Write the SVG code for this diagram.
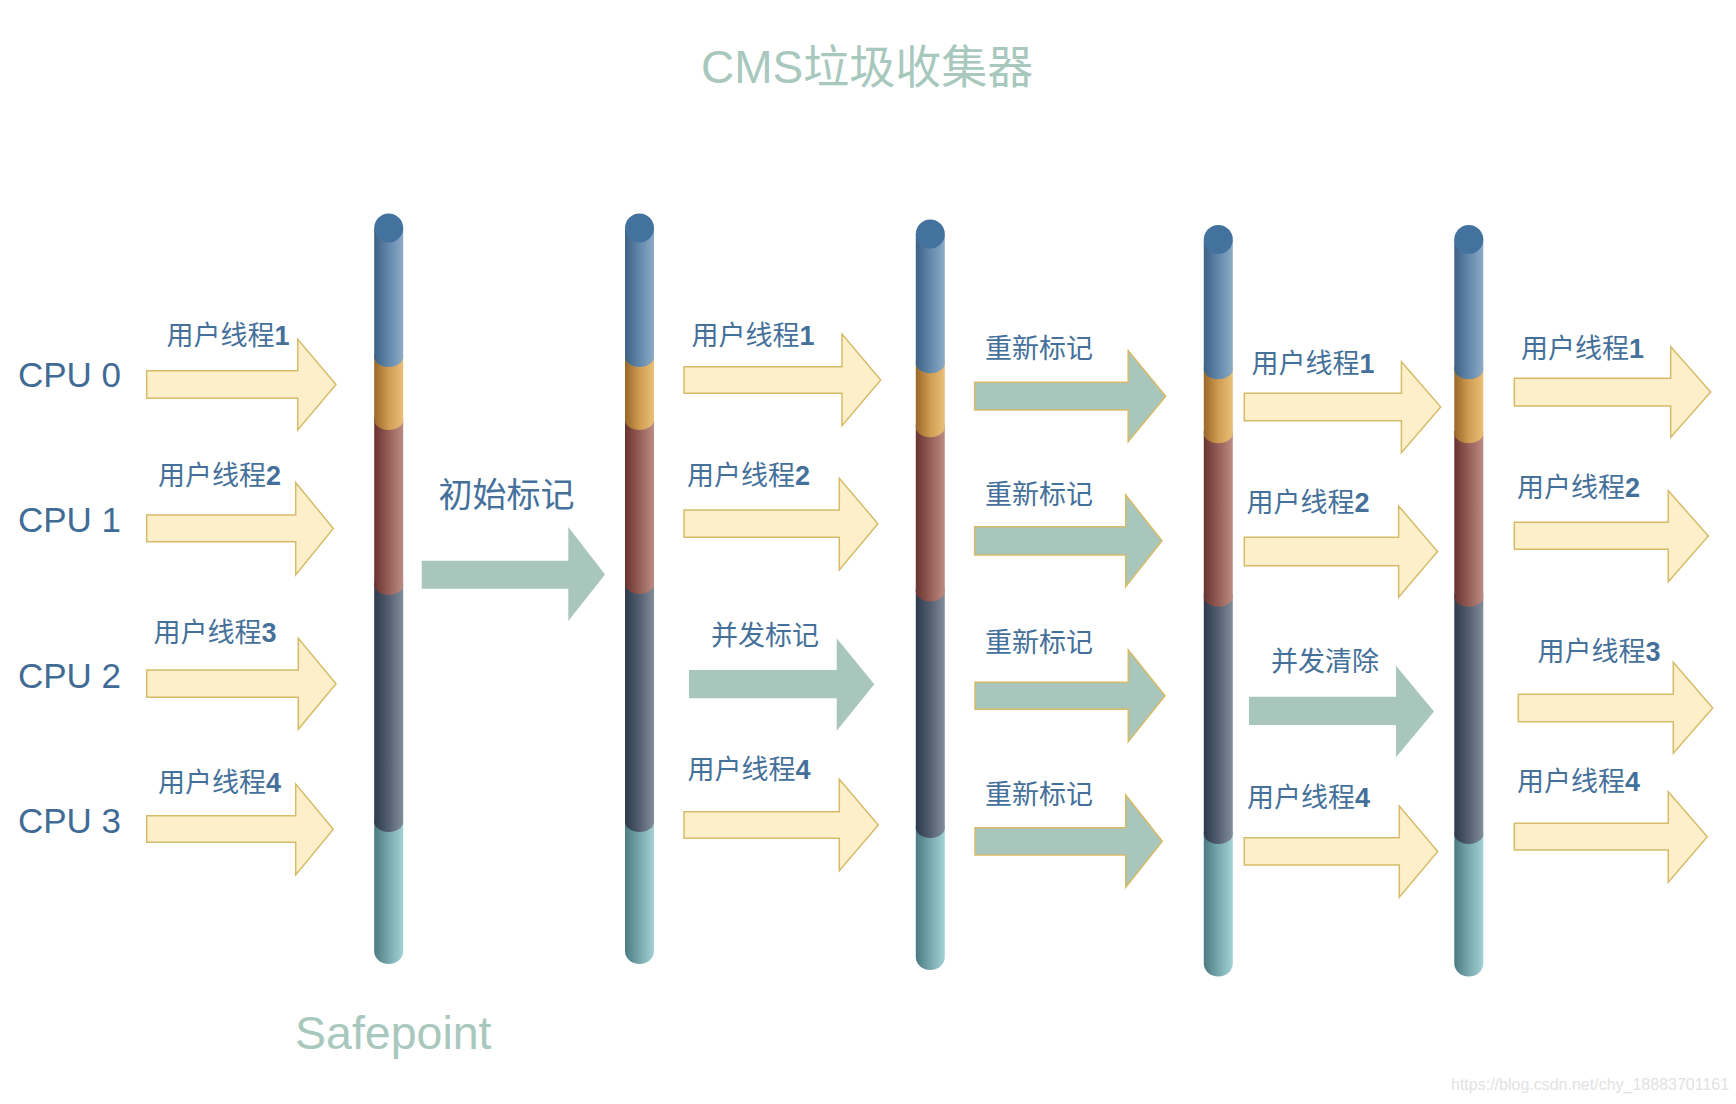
<svg xmlns="http://www.w3.org/2000/svg" width="1736" height="1104" viewBox="0 0 1736 1104">
<defs>
<linearGradient id="gBlue" x1="0" y1="0" x2="1" y2="0"><stop offset="0" stop-color="#3c6184"/><stop offset="0.5" stop-color="#6288ab"/><stop offset="1" stop-color="#8dabc6"/></linearGradient>
<linearGradient id="gOrange" x1="0" y1="0" x2="1" y2="0"><stop offset="0" stop-color="#986828"/><stop offset="0.5" stop-color="#d09c52"/><stop offset="1" stop-color="#e9bf78"/></linearGradient>
<linearGradient id="gRed" x1="0" y1="0" x2="1" y2="0"><stop offset="0" stop-color="#68322f"/><stop offset="0.5" stop-color="#955f58"/><stop offset="1" stop-color="#bc8c83"/></linearGradient>
<linearGradient id="gDark" x1="0" y1="0" x2="1" y2="0"><stop offset="0" stop-color="#2c3a4d"/><stop offset="0.5" stop-color="#535f70"/><stop offset="1" stop-color="#838e9c"/></linearGradient>
<linearGradient id="gTeal" x1="0" y1="0" x2="1" y2="0"><stop offset="0" stop-color="#4a7b81"/><stop offset="0.5" stop-color="#78a8ad"/><stop offset="1" stop-color="#a3d1d5"/></linearGradient>
</defs>
<style>
.lbl{font-family:"Liberation Sans","Noto Sans CJK SC",sans-serif;font-size:27px;fill:#44709a}
.lbl tspan{font-weight:bold}
.cpu{font-family:"Liberation Sans","Noto Sans CJK SC",sans-serif;font-size:35px;fill:#3f6b95}
.phase{font-family:"Liberation Sans","Noto Sans CJK SC",sans-serif;font-size:34px;fill:#44709a}
.title{font-family:"Liberation Sans","Noto Sans CJK SC",sans-serif;font-size:46px;fill:#a8c8bd}
.safe{font-family:"Liberation Sans",sans-serif;font-size:46.5px;fill:#a9c8bd}
.wm{font-family:"Liberation Sans",sans-serif;font-size:16px;fill:#e2e2e2}
.ya{fill:#fcefca;stroke:#d6bc68;stroke-width:1.5}
.ga{fill:#a8c6bc;stroke:#d6bc68;stroke-width:1.5}
.gn{fill:#a8c6bc}
.cap{fill:#44729e}
</style>
<rect width="1736" height="1104" fill="#ffffff"/>
<text class="title" x="701" y="83">CMS垃圾收集器</text>

<g id="pillars">
<g id="pillar1">
<path fill="url(#gTeal)" d="M374.2,820 L374.2,951 A14.5,13 0 0 0 403.2,951 L403.2,820 Z"/>
<path fill="url(#gDark)" d="M374.2,583 L374.2,822 A14.5,10 0 0 0 403.2,822 L403.2,583 Z"/>
<path fill="url(#gRed)" d="M374.2,418 L374.2,585 A14.5,10 0 0 0 403.2,585 L403.2,418 Z"/>
<path fill="url(#gOrange)" d="M374.2,355 L374.2,420 A14.5,10 0 0 0 403.2,420 L403.2,355 Z"/>
<path fill="url(#gBlue)" d="M374.2,228 L374.2,357 A14.5,10 0 0 0 403.2,357 L403.2,228 Z"/>
<ellipse class="cap" cx="388.7" cy="228" rx="14.5" ry="14.5"/>
</g>
<g id="pillar2">
<path fill="url(#gTeal)" d="M625,820 L625,951 A14.5,13 0 0 0 654,951 L654,820 Z"/>
<path fill="url(#gDark)" d="M625,583 L625,822 A14.5,10 0 0 0 654,822 L654,583 Z"/>
<path fill="url(#gRed)" d="M625,418 L625,584 A14.5,10 0 0 0 654,584 L654,418 Z"/>
<path fill="url(#gOrange)" d="M625,355 L625,420 A14.5,10 0 0 0 654,420 L654,355 Z"/>
<path fill="url(#gBlue)" d="M625,228 L625,357 A14.5,10 0 0 0 654,357 L654,228 Z"/>
<ellipse class="cap" cx="639.5" cy="228" rx="14.5" ry="14.5"/>
</g>
<g id="pillar3">
<path fill="url(#gTeal)" d="M915.8,826 L915.8,957 A14.5,13 0 0 0 944.8,957 L944.8,826 Z"/>
<path fill="url(#gDark)" d="M915.8,589 L915.8,828 A14.5,10 0 0 0 944.8,828 L944.8,589 Z"/>
<path fill="url(#gRed)" d="M915.8,425 L915.8,591.5 A14.5,10 0 0 0 944.8,591.5 L944.8,425 Z"/>
<path fill="url(#gOrange)" d="M915.8,361 L915.8,427.3 A14.5,10 0 0 0 944.8,427.3 L944.8,361 Z"/>
<path fill="url(#gBlue)" d="M915.8,234 L915.8,363.3 A14.5,10 0 0 0 944.8,363.3 L944.8,234 Z"/>
<ellipse class="cap" cx="930.3" cy="234" rx="14.5" ry="14.5"/>
</g>
<g id="pillar4">
<path fill="url(#gTeal)" d="M1203.8,832 L1203.8,963.5 A14.5,13 0 0 0 1232.8,963.5 L1232.8,832 Z"/>
<path fill="url(#gDark)" d="M1203.8,594 L1203.8,834 A14.5,10 0 0 0 1232.8,834 L1232.8,594 Z"/>
<path fill="url(#gRed)" d="M1203.8,431 L1203.8,596.7 A14.5,10 0 0 0 1232.8,596.7 L1232.8,431 Z"/>
<path fill="url(#gOrange)" d="M1203.8,367 L1203.8,433.3 A14.5,10 0 0 0 1232.8,433.3 L1232.8,367 Z"/>
<path fill="url(#gBlue)" d="M1203.8,239.5 L1203.8,369.3 A14.5,10 0 0 0 1232.8,369.3 L1232.8,239.5 Z"/>
<ellipse class="cap" cx="1218.3" cy="239.5" rx="14.5" ry="14.5"/>
</g>
<g id="pillar5">
<path fill="url(#gTeal)" d="M1454.3,832 L1454.3,963.5 A14.5,13 0 0 0 1483.3,963.5 L1483.3,832 Z"/>
<path fill="url(#gDark)" d="M1454.3,594 L1454.3,834 A14.5,10 0 0 0 1483.3,834 L1483.3,594 Z"/>
<path fill="url(#gRed)" d="M1454.3,431 L1454.3,596.7 A14.5,10 0 0 0 1483.3,596.7 L1483.3,431 Z"/>
<path fill="url(#gOrange)" d="M1454.3,367 L1454.3,433.3 A14.5,10 0 0 0 1483.3,433.3 L1483.3,367 Z"/>
<path fill="url(#gBlue)" d="M1454.3,239.5 L1454.3,369.3 A14.5,10 0 0 0 1483.3,369.3 L1483.3,239.5 Z"/>
<ellipse class="cap" cx="1468.8" cy="239.5" rx="14.5" ry="14.5"/>
</g>
</g>

<g id="cpu-labels">
<text id="cpu0" class="cpu" x="18" y="387">CPU 0</text>
<text id="cpu1" class="cpu" x="18" y="532">CPU 1</text>
<text id="cpu2" class="cpu" x="18" y="688">CPU 2</text>
<text id="cpu3" class="cpu" x="18" y="833">CPU 3</text>
</g>

<g id="connectors">
<!-- column 1 -->
<path class="ya" d="M146.7,370.7 L297.7,370.7 L297.7,339.3 L336,384.6 L297.7,430 L297.7,398.3 L146.7,398.3 Z"/>
<path class="ya" d="M146.7,515 L295.7,515 L295.7,482.7 L333.3,528.5 L295.7,575 L295.7,541.7 L146.7,541.7 Z"/>
<path class="ya" d="M146.7,670 L298.3,670 L298.3,638.3 L336,683.7 L298.3,729.3 L298.3,697.3 L146.7,697.3 Z"/>
<path class="ya" d="M146.7,815.7 L295.7,815.7 L295.7,784 L333.3,829.3 L295.7,875 L295.7,842.3 L146.7,842.3 Z"/>
<!-- initial mark -->
<path class="gn" d="M421.7,560.7 L568.3,560.7 L568.3,527 L605,574.5 L568.3,621 L568.3,588.7 L421.7,588.7 Z"/>
<!-- column 2 -->
<path class="ya" d="M684,366.7 L842,366.7 L842,334 L880.7,380 L842,425.7 L842,393.3 L684,393.3 Z"/>
<path class="ya" d="M684,510 L839.3,510 L839.3,478.3 L877.9,523.7 L839.3,570 L839.3,537.3 L684,537.3 Z"/>
<path class="gn" d="M689,670 L836.7,670 L836.7,638.3 L874.3,684.3 L836.7,730.7 L836.7,698.3 L689,698.3 Z"/>
<path class="ya" d="M684,811.7 L839.3,811.7 L839.3,779.3 L878.3,825 L839.3,870.7 L839.3,838.3 L684,838.3 Z"/>
<!-- column 3 -->
<path class="ga" d="M974.6,382.3 L1128.2,382.3 L1128.2,350.7 L1165.7,396.2 L1128.2,441.7 L1128.2,410 L974.6,410 Z"/>
<path class="ga" d="M974.6,526.7 L1125.7,526.7 L1125.7,495 L1162,540.8 L1125.7,586.7 L1125.7,555 L974.6,555 Z"/>
<path class="ga" d="M975,682.3 L1128.3,682.3 L1128.3,650 L1165,695.8 L1128.3,741.7 L1128.3,709.3 L975,709.3 Z"/>
<path class="ga" d="M975,827.7 L1125.7,827.7 L1125.7,795 L1162.3,841.3 L1125.7,887.3 L1125.7,855 L975,855 Z"/>
<!-- column 4 -->
<path class="ya" d="M1244.3,393.3 L1401.4,393.3 L1401.4,361.7 L1440.7,407 L1401.4,452.7 L1401.4,420.7 L1244.3,420.7 Z"/>
<path class="ya" d="M1244.3,537.3 L1398.6,537.3 L1398.6,506 L1437.5,551.5 L1398.6,597.3 L1398.6,565.7 L1244.3,565.7 Z"/>
<path class="gn" d="M1249,696.7 L1396,696.7 L1396,665.7 L1434,711.5 L1396,757.3 L1396,725 L1249,725 Z"/>
<path class="ya" d="M1244.3,837.7 L1399.3,837.7 L1399.3,806 L1437.7,851.5 L1399.3,897.3 L1399.3,865 L1244.3,865 Z"/>
<!-- column 5 -->
<path class="ya" d="M1514.3,378.3 L1670.7,378.3 L1670.7,346.7 L1710.7,392 L1670.7,437.3 L1670.7,406 L1514.3,406 Z"/>
<path class="ya" d="M1514.3,522.3 L1668.3,522.3 L1668.3,490.7 L1708.3,536 L1668.3,581.7 L1668.3,549.3 L1514.3,549.3 Z"/>
<path class="ya" d="M1518.3,694.3 L1673.3,694.3 L1673.3,662.3 L1712.7,708 L1673.3,753.3 L1673.3,721.7 L1518.3,721.7 Z"/>
<path class="ya" d="M1514.3,823.3 L1668.3,823.3 L1668.3,791.7 L1707.3,836.7 L1668.3,882.3 L1668.3,850 L1514.3,850 Z"/>
</g>

<g id="labels">
<text class="lbl" x="166.5" y="345">用户线程<tspan>1</tspan></text>
<text class="lbl" x="158" y="485">用户线程<tspan>2</tspan></text>
<text class="lbl" x="153.5" y="642">用户线程<tspan>3</tspan></text>
<text class="lbl" x="158" y="792">用户线程<tspan>4</tspan></text>
<text class="phase" x="438.5" y="507">初始标记</text>
<text class="lbl" x="691.5" y="345">用户线程<tspan>1</tspan></text>
<text class="lbl" x="687" y="485">用户线程<tspan>2</tspan></text>
<text class="lbl" x="711" y="645">并发标记</text>
<text class="lbl" x="687.5" y="779">用户线程<tspan>4</tspan></text>
<text class="lbl" x="985" y="358">重新标记</text>
<text class="lbl" x="985" y="504">重新标记</text>
<text class="lbl" x="985" y="652">重新标记</text>
<text class="lbl" x="985" y="803.5">重新标记</text>
<text class="lbl" x="1251.5" y="373">用户线程<tspan>1</tspan></text>
<text class="lbl" x="1246.5" y="512">用户线程<tspan>2</tspan></text>
<text class="lbl" x="1271" y="671">并发清除</text>
<text class="lbl" x="1247" y="807">用户线程<tspan>4</tspan></text>
<text class="lbl" x="1521" y="358">用户线程<tspan>1</tspan></text>
<text class="lbl" x="1517" y="497">用户线程<tspan>2</tspan></text>
<text class="lbl" x="1537.5" y="661">用户线程<tspan>3</tspan></text>
<text class="lbl" x="1517" y="791">用户线程<tspan>4</tspan></text>
</g>

<text class="safe" x="295" y="1049">Safepoint</text>
<text class="wm" x="1451" y="1090">https://blog.csdn.net/chy_18883701161</text>
</svg>
